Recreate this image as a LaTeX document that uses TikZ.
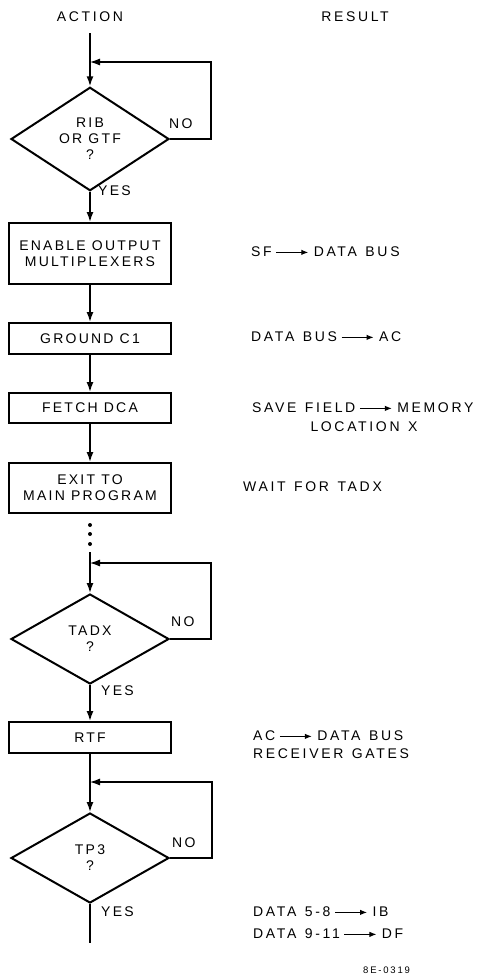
\documentclass[tikz,border=0pt]{standalone}
\usepackage{fontspec}
\setmainfont{Liberation Sans}[LetterSpace=16]
\newfontfamily\resfont{Liberation Sans}[LetterSpace=19,WordSpace=1.3]
\usetikzlibrary{shapes.geometric,arrows.meta}
\newcommand{\rarrow}{\hspace{4pt}\tikz[baseline=-0.6ex]\draw[line width=1pt,-{Latex[length=7pt,width=5.5pt]}](0pt,0pt)--(32pt,0pt);\hspace{5pt}}
\tikzset{
  lbl/.style={font=\fontsize{14}{16}\selectfont, inner sep=0pt},
  res/.style={font=\resfont\fontsize{14}{18}\selectfont, inner sep=0pt},
  stepbox/.style={draw, line width=2pt, minimum width=162pt, inner sep=0pt, align=center, font=\fontsize{14}{16}\selectfont},
  decision/.style={draw, diamond, line width=2pt, minimum width=158pt, minimum height=90pt, inner sep=0pt, align=center, font=\fontsize{14}{16}\selectfont},
  flow/.style={line width=1.5pt, -{Latex[length=10pt,width=7pt]}},
  plain/.style={line width=1.5pt},
  loopline/.style={line width=1.1pt, -{Latex[length=10pt,width=7pt]}},
}
\begin{document}
\begin{tikzpicture}[x=1pt,y=-1pt]
\path[use as bounding box] (0,0) rectangle (487,977);
% headings
\node[res] (action) at (90,17) {ACTION};
\node[res] (result) at (355,17) {RESULT};
% nodes
\coordinate (top) at (90,33);
\coordinate (j1) at (90,62);
\node[decision] (d1) at (90,139) {RIB\\OR GTF\\?};
\node[stepbox, minimum height=61pt] (b1) at (90,253.5) {ENABLE OUTPUT\\MULTIPLEXERS};
\node[stepbox, minimum height=31pt] (b2) at (90,338.5) {GROUND C1};
\node[stepbox, minimum height=30pt] (b3) at (90,408) {FETCH DCA};
\node[stepbox, minimum height=50pt] (b4) at (90,488) {EXIT TO\\MAIN PROGRAM};
\coordinate (c2) at (90,552);
\coordinate (j2) at (90,563);
\node[decision] (d2) at (90,639) {TADX\\?};
\node[stepbox, minimum height=31pt] (b5) at (90,737.5) {RTF};
\coordinate (j3) at (90,782);
\node[decision] (d3) at (90,858) {TP3\\?};
\coordinate (endp) at (90,943);
% dots
\fill (90,525) circle (2);
\fill (90,534) circle (2);
\fill (90,544) circle (2);
% connectors
\draw[flow] (top) -- (d1.north);
\draw[flow] (d1.south) -- (b1.north);
\draw[flow] (b1.south) -- (b2.north);
\draw[flow] (b2.south) -- (b3.north);
\draw[flow] (b3.south) -- (b4.north);
\draw[flow] (c2) -- (d2.north);
\draw[flow] (d2.south) -- (b5.north);
\draw[flow] (b5.south) -- (d3.north);
\draw[plain] (d3.south) -- (endp);
% loops
\draw[loopline] (d1.east) -- (211,139) -- (211,62) -- (j1);
\draw[loopline] (d2.east) -- (211,639) -- (211,563) -- (j2);
\draw[loopline] (d3.east) -- (212,858) -- (212,782) -- (j3);
% yes / no
\node[lbl, anchor=west] (y1) at (98,191) {YES};
\node[lbl, anchor=west] (n1) at (169,124) {NO};
\node[lbl, anchor=west] (y2) at (101,691) {YES};
\node[lbl, anchor=west] (n2) at (171,622) {NO};
\node[lbl, anchor=west] (y3) at (101,912) {YES};
\node[lbl, anchor=west] (n3) at (172,843) {NO};
% results
\node[res, anchor=west] (r1) at (251,252) {SF\rarrow DATA BUS};
\node[res, anchor=west] (r2) at (251,337) {DATA BUS\rarrow AC};
\node[res, anchor=west] (r3) at (252,408) {SAVE FIELD\rarrow MEMORY};
\node[res] (r3b) at (364,427) {LOCATION X};
\node[res, anchor=west] (r4) at (243,487) {WAIT FOR TADX};
\node[res, anchor=west] (r5) at (253,736) {AC\rarrow DATA BUS};
\node[res, anchor=west] (r5b) at (253,754) {RECEIVER GATES};
\node[res, anchor=west] (r6) at (253,912) {DATA 5-8\rarrow IB};
\node[res, anchor=west] (r7) at (253,934) {DATA 9-11\rarrow DF};
\node[font=\resfont\fontsize{9.5}{11}\selectfont, inner sep=0pt, anchor=west] (fig) at (363,970) {8E-0319};
\end{tikzpicture}
\end{document}
